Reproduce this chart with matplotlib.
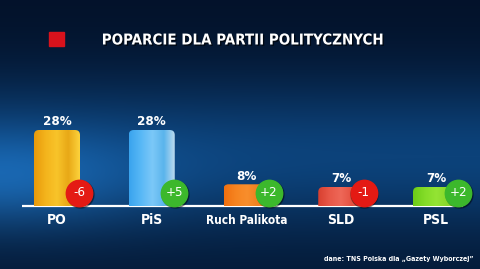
import matplotlib
matplotlib.use("Agg")
import matplotlib.pyplot as plt
import numpy as np
from matplotlib import font_manager
from matplotlib.font_manager import FontProperties
from matplotlib.patches import FancyBboxPatch, Rectangle
from matplotlib.colors import LinearSegmentedColormap
import matplotlib.patheffects as pe

# data
parties = ["PO", "PiS", "Ruch Palikota", "SLD", "PSL"]
support = [28, 28, 8, 7, 7]
change = [-6, 5, 2, -1, 2]
bar_colors = [
    ["#e89a0c", "#f4b41c", "#f8c42a", "#e8a816", "#fcd23c"],
    ["#3aa4ee", "#58b8f6", "#7cc8f8", "#5ab4ec", "#c4def0"],
    ["#f07010", "#f68420", "#f88e2c", "#f08020", "#fa9c3a"],
    ["#d84030", "#e85848", "#ee6858", "#e45040", "#f07a6a"],
    ["#6ccc18", "#84dc28", "#94e434", "#88d82a", "#b0f048"],
]
title = "POPARCIE DLA PARTII POLITYCZNYCH"
source = "dane: TNS Polska dla \u201eGazety Wyborczej\u201d"


def pick_font(bold=True):
    # look for any condensed / narrow face, otherwise fall back to Lato
    cands = []
    for f in font_manager.fontManager.ttflist:
        narrow = ("Condensed" in f.name or "Narrow" in f.name
                  or str(f.stretch) in ("condensed", "semi-condensed", "extra-condensed"))
        w = f.weight if isinstance(f.weight, int) else 700 if "bold" in str(f.weight) else 400
        if narrow and ((w >= 600) == bold) and "Oblique" not in f.fname and "Italic" not in f.fname:
            cands.append(f)
    if cands:
        cands.sort(key=lambda f: ("Sans" not in f.name, f.name))
        return FontProperties(fname=cands[0].fname)
    return FontProperties(family="Lato", weight="bold" if bold else "normal")


FB = pick_font(True)
FN = pick_font(False)

W, H = 480, 269
fig = plt.figure(figsize=(W / 100, H / 100), dpi=100)

# background
bg = fig.add_axes([0, 0, 1, 1])
yy, xx = np.mgrid[0:H, 0:W]
t = yy / H
top = np.array([3, 18, 42]) / 255
mid = np.array([12, 66, 122]) / 255
bot = np.array([4, 24, 52]) / 255
w_mid = np.exp(-((t - 0.58) / 0.28) ** 2)
img = top * ((1 - w_mid) * (1 - t))[..., None] + bot * ((1 - w_mid) * t)[..., None]
img = img + mid * w_mid[..., None]
glow = np.exp(-(((xx - 0) / 150.0) ** 2 + ((yy - 180) / 50.0) ** 2))
img = img + np.array([14, 40, 60])[None, None, :] / 255 * glow[..., None]
img = np.clip(img, 0, 1)
bg.imshow(img, extent=[0, W, H, 0], aspect="auto")
bg.set_xlim(0, W)
bg.set_ylim(H, 0)
bg.axis("off")

# title + red square
bg.add_patch(Rectangle((49, 32), 15, 14, color="#d8121c"))
bg.text(243, 40, title, color="white", fontproperties=FB, fontsize=10.8,
        ha="center", va="center",
        path_effects=[pe.withSimplePatchShadow(offset=(1, -1), shadow_rgbFace="black", alpha=0.6)])
bg.text(474, 259, source, color="white", fontproperties=FB, fontsize=5,
        ha="right", va="center")

# bars
base_px = 206
px_per_pct = 95 / 35
x0, step = 57, 94.75
ax = fig.add_axes([0, (H - base_px) / H, 1, 95 / H])
ax.axis("off")

xs = np.arange(len(parties))
bw = 46 / step
rx = 5 / step
aspect = step / px_per_pct
for i, (v, cols) in enumerate(zip(support, bar_colors)):
    patch = FancyBboxPatch((xs[i] - bw / 2, -3), bw, v + 3,
                           boxstyle=f"round,pad=0,rounding_size={rx}",
                           mutation_aspect=aspect, facecolor="none", edgecolor="none")
    ax.add_patch(patch)
    cmap = LinearSegmentedColormap.from_list(f"b{i}", cols)
    grad = np.linspace(0, 1, 64)[None, :]
    im = ax.imshow(grad, cmap=cmap, extent=[xs[i] - bw / 2, xs[i] + bw / 2, -3, v],
                   aspect="auto", zorder=2)
    im.set_clip_path(patch)
    ax.text(xs[i], v + 0.6, f"{v}%", color="white", fontproperties=FB, fontsize=9.5,
            ha="center", va="bottom", zorder=5)

ax.set_xlim(-x0 / step, (W - x0) / step)
ax.set_ylim(0, 35)

# badges
for i, d in enumerate(change):
    bx = xs[i] + 0.235
    by = 4.8
    c = "#e41a14" if d < 0 else "#3cb82c"
    ax.plot(bx + 0.01, by - 0.5, "o", ms=19.5, color="black", alpha=0.35, zorder=6, clip_on=False)
    ax.plot(bx, by, "o", ms=19, color=c, zorder=7, clip_on=False)
    lab = f"{d}" if d < 0 else f"+{d}"
    ax.text(bx, by, lab, color="white", fontproperties=FN, fontsize=9.5,
            ha="center", va="center", zorder=8)

# baseline and category labels
bg.plot([22, 463], [base_px, base_px], color="white", lw=1.6, solid_capstyle="butt")
for i, p in enumerate(parties):
    fs = 8.5 if len(p) > 5 else 10
    bg.text(x0 + step * xs[i], 220, p, color="white", fontproperties=FB, fontsize=fs,
            ha="center", va="center")

fig.savefig("out.png", dpi=100)
